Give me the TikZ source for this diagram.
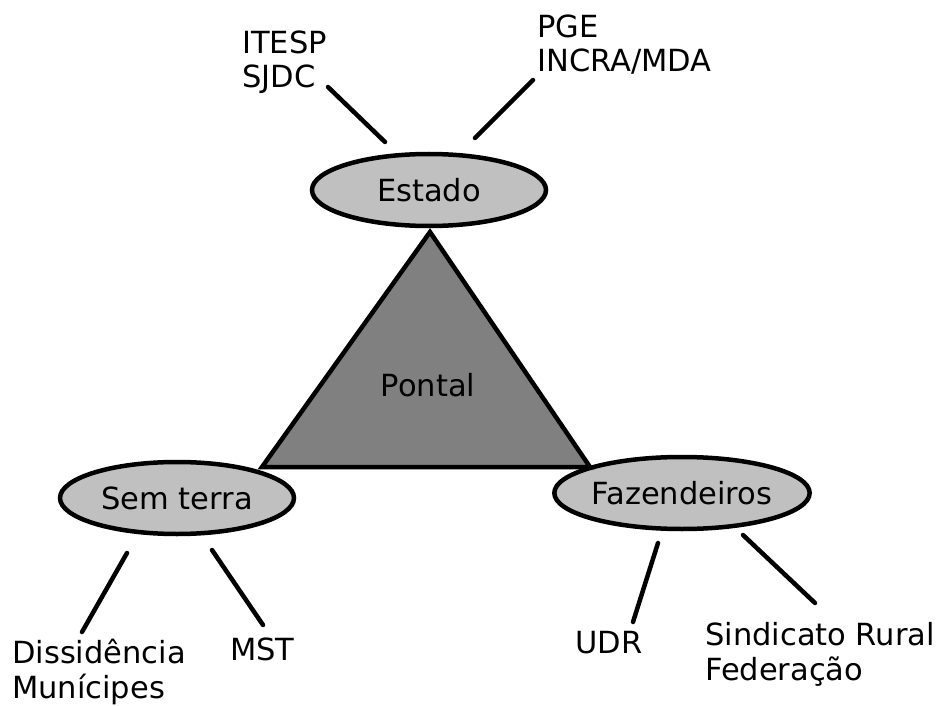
\documentclass[tikz,border=0pt]{standalone}
\usepackage{fontspec}
\setmainfont{DejaVu Sans}
\usepackage{xcolor}
\usetikzlibrary{shapes.geometric}
\usetikzlibrary{positioning}

\definecolor{ellgray}{HTML}{C0C0C0}
\definecolor{trigray}{HTML}{808080}

\begin{document}
\begin{tikzpicture}[x=1pt,y=-1pt]
% 1 = 1 pixel of the reference, y downwards
    \def\RX{234pt} %width of ellipses
    \def\RY{72pt} %height of ellipses
    \def\LW{4.5pt} %

    \tikzset{
      actor/.style={ellipse,draw,line width=\LW,fill=ellgray,
        minimum width=\RX,minimum height=\RY,inner sep=0pt,
        font=\fontsize{30.5}{34.5}\selectfont},
      member/.style={anchor=base west,align=left,inner sep=0pt,
        font=\fontsize{30.5}{34.5}\selectfont},
      link/.style={line width=4.5pt,line cap=round},
    }

    \useasboundingbox (0,0) rectangle (938,706);

    % ESTADO (base = last line)
    \node[actor] (estado) at (429,190) {Estado};
    \node[member] (itesp) at (242,88) {ITESP\\SJDC};
    \node[member] (pge) at (537,72) {PGE\\INCRA/MDA};
    \coordinate (itesp-a) at (328,87);
    \coordinate (itesp-b) at (385,142);
    \coordinate (pge-a) at (533,80);
    \coordinate (pge-b) at (475,138);
    \draw [link] (itesp-a) -- (itesp-b);
    \draw [link] (pge-a) -- (pge-b);

    % SEM TERRA
    \node[actor] (semterra) at (177,498) {Sem terra};
    \node[member] (dissid) at (12,698) {Dissidência\\Munícipes};
    \node[member] (mst) at (230,660) {MST};
    \coordinate (dissid-a) at (127,553);
    \coordinate (dissid-b) at (82,632);
    \coordinate (mst-a) at (212,550);
    \coordinate (mst-b) at (263,625);
    \draw [link] (dissid-a) -- (dissid-b);
    \draw [link] (mst-a) -- (mst-b);

    % FAZENDEIROS
    \node[actor,minimum width=238pt] (fazend) at (682,493) {Fazendeiros};
    \node[member] (udr) at (575,653) {UDR};
    \node[member] (sindic) at (705,680) {Sindicato Rural\\Federação};
    \coordinate (udr-a) at (658,543);
    \coordinate (udr-b) at (633,622);
    \coordinate (sindic-a) at (743,535);
    \coordinate (sindic-b) at (815,603);
    \draw [link] (udr-a) -- (udr-b);
    \draw [link] (sindic-a) -- (sindic-b);

    % TRIANGLE
    \draw [fill=trigray,line width=\LW,line join=miter]
        (430,232) coordinate (top) -- (262,467) coordinate (left)
        -- (590,467) coordinate (right) -- cycle;
    \node[font=\fontsize{30.5}{34.5}\selectfont] (pontal) at (428,385) {Pontal};

\end{tikzpicture}
\end{document}
